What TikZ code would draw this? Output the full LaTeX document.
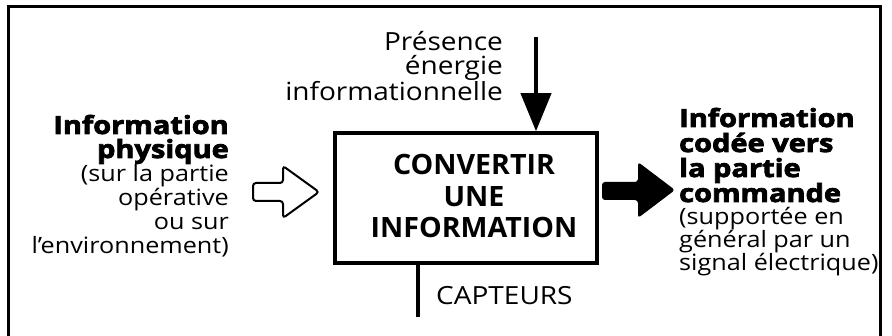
\documentclass[tikz,border=0pt]{standalone}
\usepackage{fontspec}
\setmainfont{Open Sans}[FakeStretch=1.12]
\newfontfamily\heavyfont{Open Sans}[FakeStretch=1.16,BoldFeatures={FakeBold=3}]
\newfontfamily\titrefont{Open Sans}[FakeStretch=1.02]
\usetikzlibrary{arrows.meta}
\tikzset{
  cadre/.style={line width=3pt},
  fonction/.style={draw, line width=3.5pt, inner sep=0pt},
  txt/.style={inner sep=0pt, font=\fontsize{25}{24}\selectfont},
  titre/.style={inner sep=0pt, font=\titrefont\fontsize{28}{31.5}\bfseries, align=center},
  fleche/.style={line width=2pt, rounded corners=3pt}
}
\newcommand{\gras}[1]{{\heavyfont\bfseries #1}}
\newcommand{\petit}[1]{{\fontsize{22.5}{24}\selectfont #1}}
\begin{document}
\begin{tikzpicture}[x=1pt,y=-1pt]
\useasboundingbox (0,0) rectangle (892,336);
\fill[white] (0,0) rectangle (892,336);
\draw[cadre] (8,340) -- (8,7) -- (880,7) -- (880,340);
\node[fonction, minimum width=262pt, minimum height=130pt] (conv) at (466,198) {};
\node[titre, anchor=base] (convtxt) at (474,238) {CONVERTIR\\UNE\\INFORMATION};
\node[txt, align=right, anchor=base east, font=\fontsize{25}{24.5}\selectfont] (presence) at (503,101) {Présence\\énergie\\informationnelle};
\coordinate (presHaut) at (536,37);
\draw[line width=4pt, -{Triangle[length=38pt,width=30pt]}] (presHaut) -- (presHaut |- conv.north);
\coordinate (captBas) at (418,317);
\draw[line width=3.5pt] (conv.south -| captBas) -- (captBas);
\node[txt, anchor=base west] (capteurs) at (436,305) {CAPTEURS};
\node[txt, align=right, anchor=base east] (physique) at (229,254) {\gras{Information}\\\gras{physique}\\\petit{(sur la partie}\\\petit{opérative}\\\petit{ou sur}\\\petit{l'environnement)}};
\node[txt, align=left, anchor=base west, font=\fontsize{25}{25}\selectfont] (codee) at (679,271) {\gras{Information}\\\gras{codée vers}\\\gras{la partie}\\\gras{commande}\\[-2pt]\petit{(supportée en}\\[-2pt]\petit{général par un}\\[-2pt]\petit{signal électrique)}};
\draw[fleche] (253,183) -- (283,183) -- (283,166) -- (319,192) -- (283,218) -- (283,201) -- (253,201) -- cycle;
\fill[fleche] (602,182) -- (638,182) -- (638,162) -- (675,190) -- (638,218) -- (638,200) -- (602,200) -- cycle;
\end{tikzpicture}
\end{document}
